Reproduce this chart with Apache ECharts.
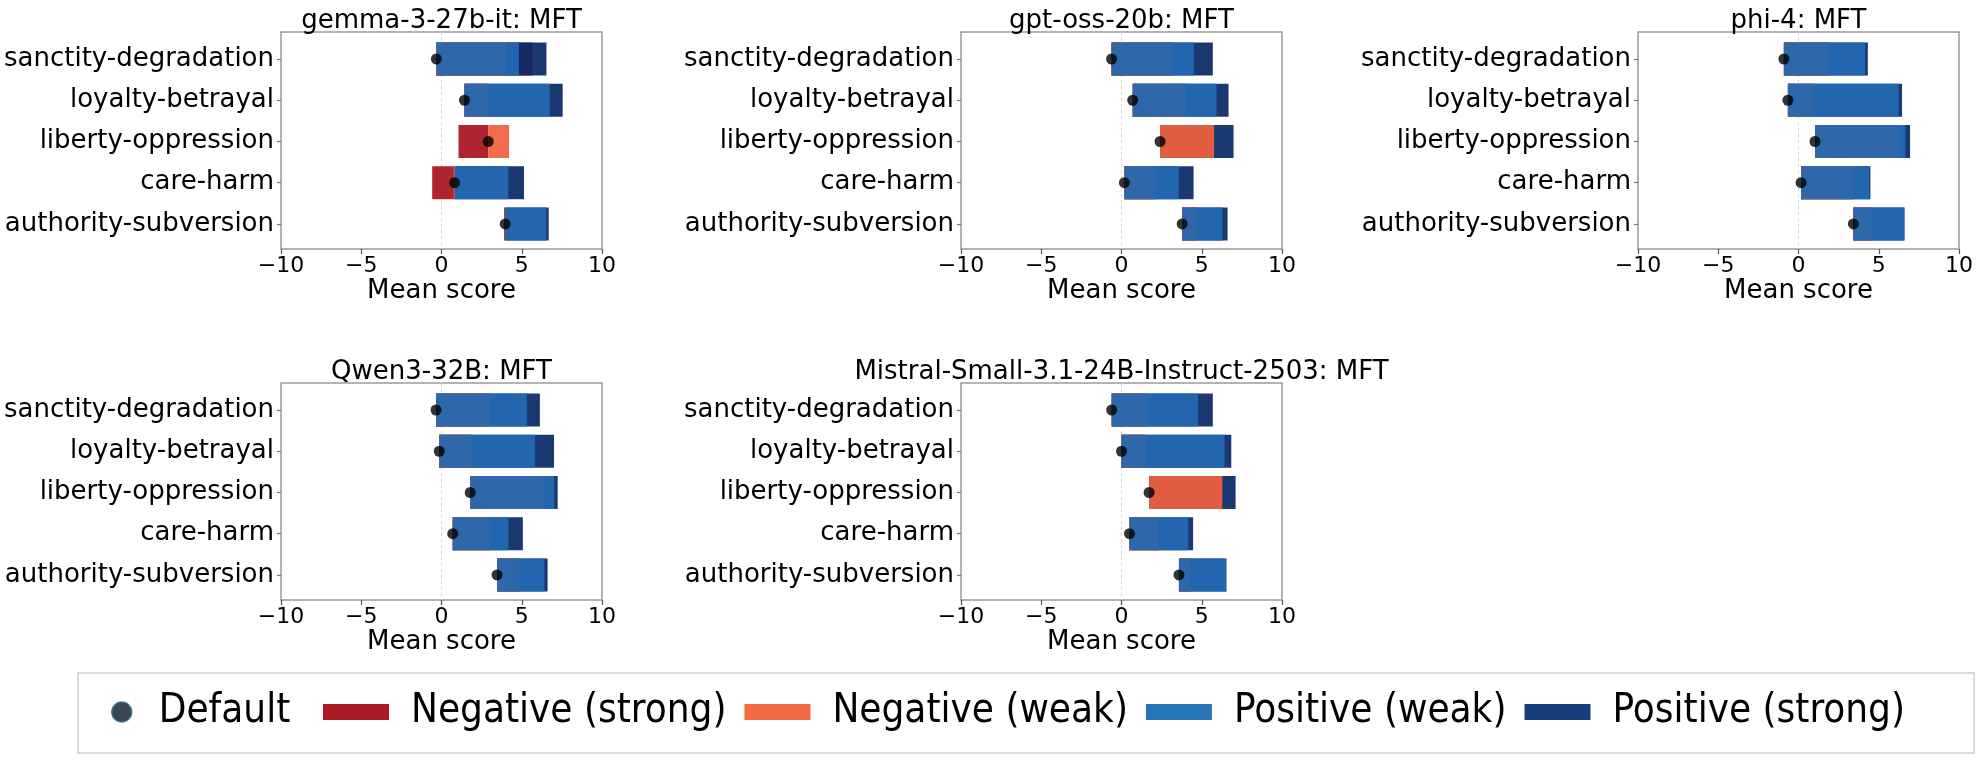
<!DOCTYPE html>
<html><head><meta charset="utf-8">
<script src="https://cdn.jsdelivr.net/npm/echarts@6/dist/echarts.min.js"></script>
<style>html,body{margin:0;padding:0;background:#fff}#c{width:1977px;height:761px}</style>
</head><body><div id="c"></div>
<script>
// ---- data ----
const CATEGORIES = ['sanctity-degradation', 'loyalty-betrayal', 'liberty-oppression', 'care-harm', 'authority-subversion'];
const MODELS = ['gemma-3-27b-it', 'gpt-oss-20b', 'phi-4', 'Qwen3-32B', 'Mistral-Small-3.1-24B-Instruct-2503'];
const X_TICKS = [-10, -5, 0, 5, 10];
// one row per model, one value per category (order of CATEGORIES)
const DEFAULT_SCORE = [
  [-0.32, 1.43, 2.91, 0.82, 3.97],
  [-0.62, 0.70, 2.40, 0.18, 3.78],
  [-0.91, -0.66, 1.03, 0.16, 3.42],
  [-0.34, -0.14, 1.79, 0.70, 3.46],
  [-0.61, 0.00, 1.72, 0.50, 3.58]
];
const NEG_STRONG = [
  [5.67, 2.89, 1.06, -0.58, 3.90],
  [3.15, 3.99, 2.40, 2.10, 4.72],
  [1.85, 1.01, 6.24, 3.42, 4.57],
  [3.04, 1.89, 6.43, 2.98, 4.82],
  [1.57, 1.51, 1.72, 2.30, 4.29]
];
const NEG_WEAK = [
  [4.00, 2.89, 4.21, 0.75, 3.97],
  [3.15, 3.99, 5.77, 2.10, 4.72],
  [1.85, 1.01, 6.24, 3.42, 4.57],
  [3.04, 1.89, 6.43, 2.98, 4.82],
  [1.57, 1.51, 6.28, 2.30, 4.29]
];
const POS_WEAK = [
  [4.82, 6.75, 2.91, 4.16, 6.54],
  [4.51, 5.92, 2.40, 3.57, 6.29],
  [4.15, 6.24, 6.66, 4.42, 6.60],
  [5.32, 5.82, 7.03, 4.17, 6.41],
  [4.77, 6.42, 1.72, 4.16, 6.53]
];
const POS_STRONG = [
  [6.54, 7.55, 2.91, 5.14, 6.68],
  [5.69, 6.67, 6.98, 4.49, 6.61],
  [4.32, 6.45, 6.95, 4.48, 6.60],
  [6.13, 7.01, 7.24, 5.07, 6.61],
  [5.69, 6.84, 7.11, 4.46, 6.53]
];

// ---- styling / layout ----
const COLORS = {
  'Negative (strong)': '#a8141f',
  'Negative (weak)': '#f0603e',
  'Positive (weak)': '#2169b3',
  'Positive (strong)': '#0a2a66'
};
const LEGEND_COLORS = {
  'Negative (strong)': '#ad1c26',
  'Negative (weak)': '#f26944',
  'Positive (weak)': '#2874b8',
  'Positive (strong)': '#173e79'
};
const BAR_ALPHA = 0.93;
const BAR_H = 0.8;
const FONT = 'DejaVu Sans';
const COL_LEFT = [281, 961, 1638];
const ROW_TOP = [32, 383];
const GW = 321, GH = 217;

function barShape(params, api) {
  const y = api.value(0), x0 = api.value(1), x1 = api.value(2);
  const p0 = api.coord([x0, y]);
  const p1 = api.coord([x1, y]);
  const h = Math.abs(api.size([0, BAR_H])[1]);
  const cs = params.coordSys;
  return echarts.graphic.clipRectByRect(
    { x: Math.min(p0[0], p1[0]), y: p0[1] - h / 2, width: Math.abs(p1[0] - p0[0]), height: h },
    { x: cs.x, y: cs.y, width: cs.width, height: cs.height }
  );
}
function renderBar(params, api) {
  const shape = barShape(params, api);
  if (!shape) return null;
  return { type: 'rect', shape: shape, style: { fill: api.visual('color'), opacity: BAR_ALPHA } };
}
function renderBacking(params, api) {
  const shape = barShape(params, api);
  if (!shape) return null;
  return { type: 'rect', shape: shape, style: { fill: '#fff' } };
}

const grid = [], xAxis = [], yAxis = [], series = [], title = [];
const LAYERS = [
  ['Negative (strong)', NEG_STRONG],
  ['Positive (strong)', POS_STRONG],
  ['Negative (weak)', NEG_WEAK],
  ['Positive (weak)', POS_WEAK]
];
MODELS.forEach((m, i) => {
  const col = i % 3, row = Math.floor(i / 3);
  grid.push({ left: COL_LEFT[col], top: ROW_TOP[row], width: GW, height: GH,
    show: true, borderColor: '#9a9a9a', borderWidth: 1.5, backgroundColor: 'transparent' });
  title.push({ text: m + ': MFT', left: COL_LEFT[col] + GW / 2, top: ROW_TOP[row] - 26, textAlign: 'center', padding: 0,
    textStyle: { fontFamily: FONT, fontSize: 26, fontWeight: 'normal', color: '#000', lineHeight: 30 } });
  xAxis.push({ type: 'value', gridIndex: i, min: X_TICKS[0], max: X_TICKS[X_TICKS.length - 1], interval: 5,
    axisLine: { show: false, onZero: false }, splitLine: { show: false },
    axisTick: { show: true, length: 5, lineStyle: { color: '#555', width: 1.2 } },
    axisLabel: { fontFamily: FONT, fontSize: 22, color: '#000', margin: 6,
      formatter: v => (v < 0 ? '\u2212' + Math.abs(v) : String(v)) },
    name: 'Mean score', nameLocation: 'middle', nameGap: 27,
    nameTextStyle: { fontFamily: FONT, fontSize: 26, color: '#000' } });
  yAxis.push({ type: 'value', gridIndex: i, inverse: true, min: -0.655, max: 4.607,
    axisLine: { show: false, onZero: false }, splitLine: { show: false },
    axisTick: { show: true, length: 4, customValues: [0, 1, 2, 3, 4], lineStyle: { color: '#777', width: 1.2 } },
    axisLabel: { fontFamily: FONT, fontSize: 26, color: '#000', margin: 7,
      customValues: [0, 1, 2, 3, 4], formatter: v => CATEGORIES[Math.round(v)] } });

  // zero reference line (behind the bars)
  series.push({ type: 'scatter', xAxisIndex: i, yAxisIndex: i, data: [], z: 1, silent: true,
    markLine: { z: 1, silent: true, symbol: 'none', label: { show: false },
      lineStyle: { color: '#d4d4d4', type: [3, 3], width: 1 }, data: [{ xAxis: 0 }] } });

  // opaque white backing under the translucent bars, spanning each row's full extent
  series.push({ type: 'custom', xAxisIndex: i, yAxisIndex: i, z: 1.5, silent: true,
    renderItem: renderBacking, encode: { x: [1, 2], y: 0 },
    data: CATEGORIES.map((c, j) => {
      const vals = [DEFAULT_SCORE[i][j]].concat(LAYERS.map(L => L[1][i][j]));
      return [j, Math.min.apply(null, vals), Math.max.apply(null, vals)];
    }) });

  LAYERS.forEach(([name, arr], k) => {
    series.push({ type: 'custom', name: name, xAxisIndex: i, yAxisIndex: i, z: 2 + k,
      itemStyle: { color: COLORS[name] }, renderItem: renderBar, encode: { x: [1, 2], y: 0 },
      data: CATEGORIES.map((c, j) => [j, DEFAULT_SCORE[i][j], arr[i][j]]) });
  });
  series.push({ type: 'scatter', name: 'Default', xAxisIndex: i, yAxisIndex: i, z: 10,
    symbol: 'circle', symbolSize: 11, itemStyle: { color: '#000' },
    data: CATEGORIES.map((c, j) => [DEFAULT_SCORE[i][j], j]) });
});

const LEGEND_FONT = "'Liberation Sans Narrow', 'DejaVu Sans Condensed', sans-serif";
const option = {
  animation: false,
  backgroundColor: '#fff',
  title: title,
  grid: grid, xAxis: xAxis, yAxis: yAxis, series: series,
  legend: [
    { left: 111, top: 689, width: 300, padding: 0, itemWidth: 20, itemHeight: 20, selectedMode: false,
      data: [{ name: 'Default', icon: 'circle', itemStyle: { color: '#0b1a26', borderColor: '#2d6a86', borderWidth: 1.5 } }],
      textStyle: { fontFamily: LEGEND_FONT, fontSize: 40, color: '#000', lineHeight: 46, padding: [0, 0, 0, 22] } },
    { left: 323, top: 689, width: 1640, padding: 0, itemWidth: 66, itemHeight: 16, itemGap: 18, selectedMode: false,
      data: ['Negative (strong)', 'Negative (weak)', 'Positive (weak)', 'Positive (strong)'].map(n => ({ name: n, icon: 'rect', itemStyle: { color: LEGEND_COLORS[n], opacity: 1 } })),
      textStyle: { fontFamily: LEGEND_FONT, fontSize: 40, color: '#000', lineHeight: 46, padding: [0, 0, 0, 17] } }
  ],
  graphic: [{ type: 'rect', left: 77, top: 672, silent: true, z: -1,
    shape: { width: 1896, height: 80 }, style: { fill: '#fff', stroke: '#d9d9d9', lineWidth: 2 } }]
};
const chart = echarts.init(document.getElementById('c'), null, { renderer: 'canvas' });
chart.setOption(option);
</script></body></html>
